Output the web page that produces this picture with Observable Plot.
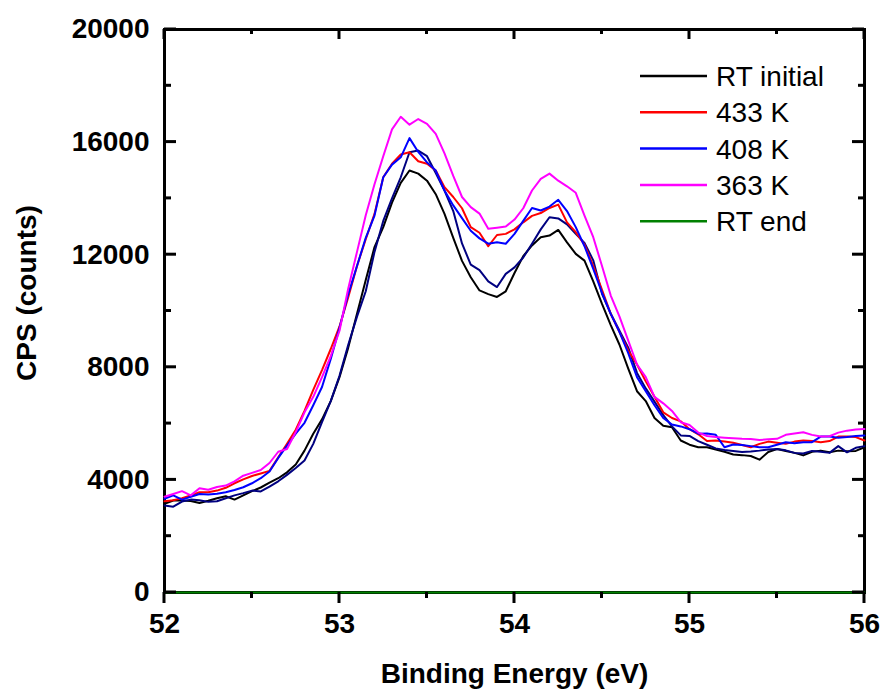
<!DOCTYPE html>
<html>
<head>
<meta charset="utf-8">
<script src="https://cdn.jsdelivr.net/npm/d3@7"></script>
<script src="https://cdn.jsdelivr.net/npm/@observablehq/plot@0.6"></script>
<style>
  html, body { margin: 0; padding: 0; background: #fff; }
</style>
</head>
<body>
<div id="chart"></div>
<script>
// Binding energy sampling (eV), 0.05 eV steps from 52 to 56
const energies = d3.range(81).map(i => +(52 + i * 0.05).toFixed(2));

const rtInitial = [
  3150, 3270, 3270, 3250, 3180, 3260, 3350, 3420, 3300, 3450,
  3600, 3730, 3900, 4060, 4270, 4550, 5040, 5640, 6150, 6800,
  7650, 8700, 9900, 11100, 12270, 12980, 13850, 14550, 14990, 14880,
  14630, 14150, 13450, 12600, 11780, 11200, 10730, 10600, 10500, 10700,
  11350, 11950, 12330, 12620, 12680, 12880, 12440, 12030, 11790, 11050,
  10250, 9500, 8800, 7950, 7150, 6800, 6200, 5920, 5870, 5400,
  5250, 5160, 5160, 5080, 5000, 4900, 4880, 4850, 4720, 4990,
  5100, 5030, 4960, 4870, 5000, 5040, 4980, 5040, 5020, 5030,
  5160
];
const k433 = [
  3240, 3280, 3350, 3450, 3560, 3560, 3620, 3720, 3880, 4020,
  4140, 4230, 4320, 4800, 5280, 5780, 6450, 7200, 7900, 8650,
  9450, 10490, 11600, 12550, 13450, 14750, 15230, 15560, 15640, 15320,
  15230, 14990, 14400, 14050, 13650, 12980, 12780, 12300, 12700, 12740,
  12900, 13150, 13380, 13480, 13660, 13780, 13150, 12800, 12360, 11600,
  10750, 9900, 9250, 8600, 8100, 7500, 6950, 6400, 6200, 6080,
  5800, 5620, 5380, 5400, 5360, 5320, 5240, 5160, 5280, 5360,
  5320, 5280, 5360, 5400, 5380, 5340, 5380, 5540, 5540, 5520,
  5400
];
const k408 = [
  3330, 3450, 3300, 3400, 3500, 3480, 3510, 3560, 3640, 3740,
  3880, 4060, 4300, 4780, 5220, 5640, 6030, 6650, 7300, 8300,
  9400, 10600, 11600, 12600, 13390, 14750, 15200, 15460, 16140, 15650,
  15280, 14990, 14280, 13750, 13300, 12850, 12580, 12390, 12440, 12390,
  12740, 13200, 13660, 13570, 13710, 13950, 13550, 12980, 12300, 11500,
  10650, 9900, 9250, 8500, 7650, 7150, 6650, 6200, 5970, 5900,
  5800, 5640, 5650, 5600, 5160, 5260, 5240, 5200, 5160, 5160,
  5250, 5340, 5300, 5340, 5340, 5540, 5540, 5500, 5520, 5560,
  5580
];
const k363 = [
  3400, 3500, 3600, 3450, 3700, 3650, 3750, 3800, 3950, 4150,
  4250, 4350, 4600, 5000, 5100, 5700, 6400, 6950, 7650, 8400,
  9300, 10800, 12100, 13400, 14500, 15500, 16450, 16900, 16620, 16820,
  16650, 16290, 15600, 14800, 14050, 13690, 13460, 12920, 12960, 13000,
  13250, 13650, 14280, 14690, 14880, 14630, 14430, 14200, 13390, 12620,
  11600, 10550, 9800, 8950, 8100, 7650, 6950, 6720, 6450, 6050,
  5950, 5680, 5560, 5520, 5500, 5480, 5460, 5450, 5420, 5440,
  5460, 5600, 5650, 5690, 5600, 5540, 5550, 5680, 5750, 5790,
  5810
];
const rtEnd = [
  0, 0, 0, 0, 0, 0, 0, 0, 0, 0,
  0, 0, 0, 0, 0, 0, 0, 0, 0, 0,
  0, 0, 0, 0, 0, 0, 0, 0, 0, 0,
  0, 0, 0, 0, 0, 0, 0, 0, 0, 0,
  0, 0, 0, 0, 0, 0, 0, 0, 0, 0,
  0, 0, 0, 0, 0, 0, 0, 0, 0, 0,
  0, 0, 0, 0, 0, 0, 0, 0, 0, 0,
  0, 0, 0, 0, 0, 0, 0, 0, 0, 0,
  0
];
// extra dark-blue trace present in the plot but not listed in the legend
const unlabeled = [
  3090, 3050, 3230, 3300, 3280, 3220, 3240, 3350, 3450, 3530,
  3620, 3590, 3760, 3950, 4180, 4420, 4690, 5280, 6050, 6800,
  7700, 8800, 9800, 10700, 12100, 13200, 14000, 14750, 15640, 15700,
  15500, 14900, 14280, 13550, 12400, 11650, 11450, 11050, 10850, 11320,
  11550, 11900, 12390, 12900, 13330, 13290, 13080, 12740, 12420, 11800,
  10610, 9900, 9300, 8700, 7800, 7250, 6780, 6300, 5900, 5580,
  5560, 5380, 5250, 5120, 5060, 5030, 4990, 5010, 5040, 5080,
  5100, 5050, 4960, 4940, 5030, 5000, 4960, 5200, 4980, 5140,
  5200
];

const legendNames = ["RT initial", "433 K", "408 K", "363 K", "RT end"];
const legendColors = ["#000000", "#ff0000", "#0000ff", "#ff00ff", "#008000"];

const xMajorTicks = [52, 53, 54, 55, 56];
const xMinorTicks = [52.5, 53.5, 54.5, 55.5];
const yMajorTicks = [0, 4000, 8000, 12000, 16000, 20000];
const yMinorTicks = [2000, 6000, 10000, 14000, 18000];

const xTitle = "Binding Energy (eV)";
const yTitle = "CPS (counts)";

// draw order
const traces = [
  {name: "RT initial", values: rtInitial, color: "#000000"},
  {name: "unlabeled", values: unlabeled, color: "#000080"},
  {name: "433 K", values: k433, color: "#ff0000"},
  {name: "408 K", values: k408, color: "#0000ff"},
  {name: "363 K", values: k363, color: "#ff00ff"},
  {name: "RT end", values: rtEnd, color: "#008000"}
];

const FONT = "Liberation Sans, Arial, Helvetica, sans-serif";
const W = 880, H = 690, ML = 164, MR = 16, MT = 29, MB = 98;

const lineMarks = traces.map(t =>
  Plot.line(t.values.map((v, i) => ({E: energies[i], v})), {
    x: "E", y: "v", stroke: t.color, strokeWidth: 2, strokeLinejoin: "round"
  })
);

const plot = Plot.plot({
  width: W,
  height: H,
  marginLeft: ML,
  marginRight: MR,
  marginTop: MT,
  marginBottom: MB,
  x: {domain: [52, 56]},
  y: {domain: [0, 20000]},
  marks: [
    Plot.frame({stroke: "black", strokeWidth: 3}),
    Plot.axisY(yMajorTicks, {anchor: "left", tickSize: 0, tickPadding: 15, label: null,
      tickFormat: d => String(d), fontSize: 28, fontWeight: "bold", fontFamily: FONT}),
    Plot.axisX(xMajorTicks, {anchor: "bottom", tickSize: 0, tickPadding: 21, label: null,
      tickFormat: d => String(d), fontSize: 28, fontWeight: "bold", fontFamily: FONT}),
    ...lineMarks,
    Plot.text([xTitle], {frameAnchor: "bottom", text: d => d, dy: 82, lineAnchor: "middle",
      textAnchor: "middle", fontSize: 28, fontWeight: "bold", fontFamily: FONT, fill: "black"}),
    Plot.text([yTitle], {frameAnchor: "left", text: d => d, rotate: -90, dx: -137, dy: -18,
      lineAnchor: "middle", textAnchor: "middle", fontSize: 28, fontWeight: "bold", fontFamily: FONT, fill: "black"})
  ]
});

document.getElementById("chart").appendChild(plot);

const svg = d3.select(plot);
const xs = plot.scale("x"), ys = plot.scale("y");
const xL = xs.range[0], xR = xs.range[1];
const yB = ys.range[0], yT = ys.range[1];

// tick marks as filled rectangles, positioned through Plot's scales
const tg = svg.append("g").attr("fill", "black").attr("stroke", "none");
function hTick(v, from, len) {
  const y = ys.apply(v);
  tg.append("rect").attr("x", Math.min(from, from + len)).attr("y", y - 1.5)
    .attr("width", Math.abs(len)).attr("height", 3);
}
function vTick(v, from, len) {
  const x = xs.apply(v);
  tg.append("rect").attr("x", x - 1.5).attr("y", Math.min(from, from + len))
    .attr("width", 3).attr("height", Math.abs(len));
}
yMajorTicks.forEach(v => { hTick(v, xL, 12); hTick(v, xR, -12); });
yMinorTicks.forEach(v => { hTick(v, xL, 7); hTick(v, xR, -6); });
xMajorTicks.forEach(v => { vTick(v, yT, 10); vTick(v, yB, 11); });
xMinorTicks.forEach(v => { vTick(v, yT, 5); vTick(v, yB, 6); });

// in-plot legend (top right)
const lg = svg.append("g").attr("class", "legend").attr("text-anchor", "start");
legendNames.forEach((name, i) => {
  const cy = 76 + i * 36.3;
  lg.append("line")
    .attr("x1", 640).attr("x2", 707).attr("y1", cy).attr("y2", cy)
    .attr("stroke", legendColors[i]).attr("stroke-width", 2.5);
  lg.append("text")
    .attr("x", 716).attr("y", cy + 10)
    .attr("text-anchor", "start")
    .attr("font-family", FONT).attr("font-size", 28).attr("fill", "black")
    .text(name);
});
</script>
</body>
</html>
